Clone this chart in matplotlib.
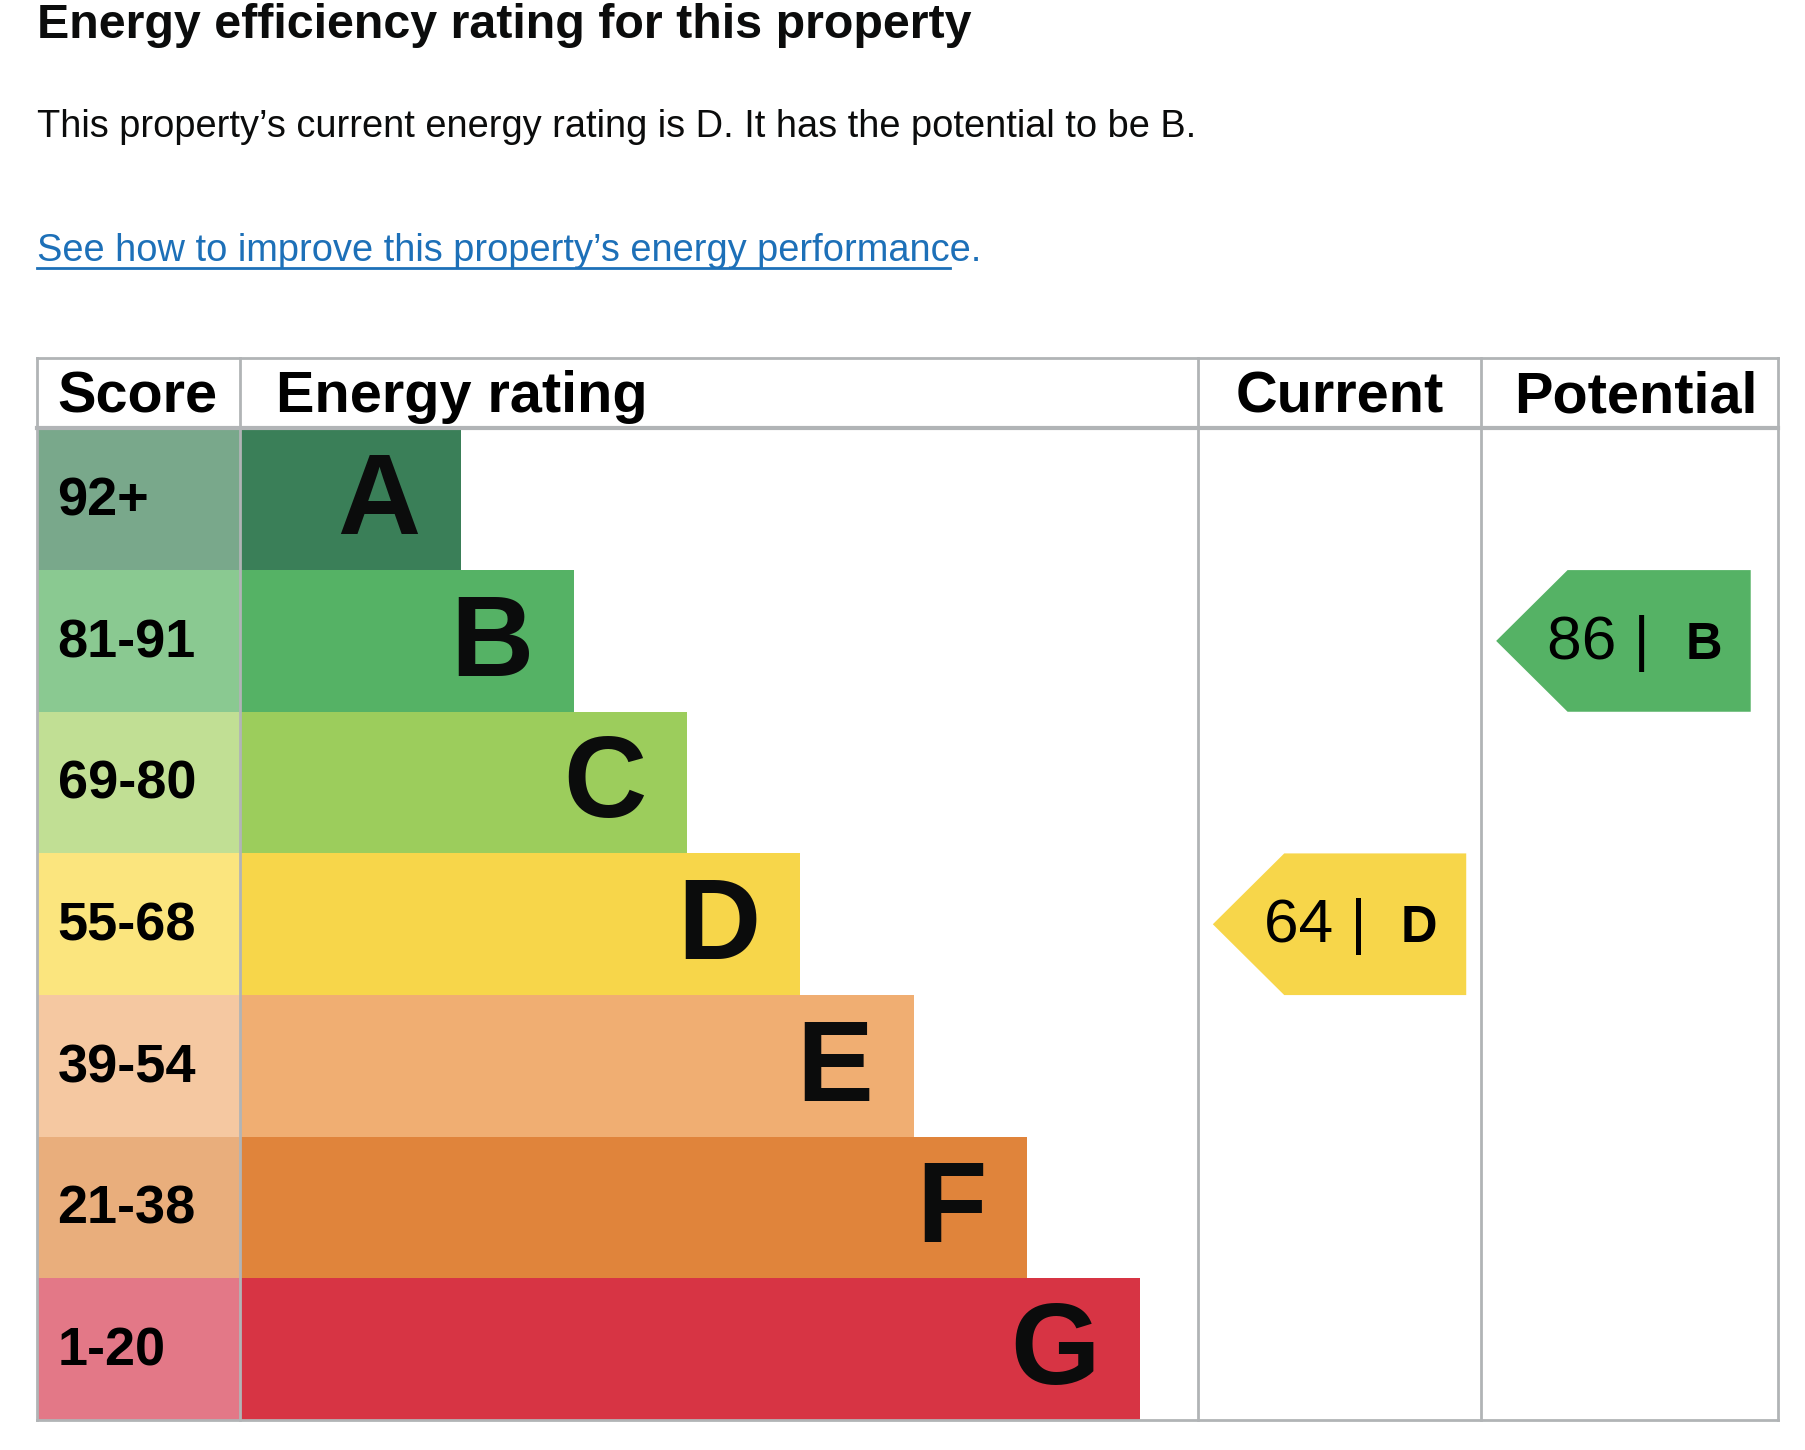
import matplotlib.pyplot as plt
from matplotlib.patches import Rectangle, Polygon

plt.rcParams['font.family'] = ['Liberation Sans', 'DejaVu Sans']

# data
bands = ["A", "B", "C", "D", "E", "F", "G"]
score_ranges = ["92+", "81-91", "69-80", "55-68", "39-54", "21-38", "1-20"]
bar_colors = ["#3a7f58", "#55b265", "#9ccd5c", "#f7d64a", "#f0ae72", "#e0843b", "#d73444"]
score_colors = ["#79a88b", "#8ac991", "#c1df94", "#fbe57e", "#f5c8a1", "#e9ae7c", "#e37887"]
current_score, current_band = 64, "D"
potential_score, potential_band = 86, "B"

W, H = 1568, 1259
s = 1806 / W
fig = plt.figure(figsize=(18.06, 14.5), dpi=100)
ax = fig.add_axes([0, 0, 1, 1])
ax.set_xlim(0, W)
ax.set_ylim(H, 0)
ax.axis('off')


def pt(px):
    return px * s * 0.72


# titles
ax.text(32, 22, "Energy efficiency rating for this property", fontsize=pt(42),
        fontweight='bold', va='center', color='#0b0c0c')
ax.text(32, 110, "This property\u2019s current energy rating is D. It has the potential to be B.",
        fontsize=pt(33), va='center', color='#0b0c0c')
ax.text(32, 218, "See how to improve this property\u2019s energy performance.",
        fontsize=pt(33), va='center', color='#1d70b8')
ax.plot([32, 825], [233, 233], color='#1d70b8', lw=2)

# table geometry
top, head_bot, row_h = 311, 372, 123
cols = [32, 208, 1040, 1286, 1544]
bottom = head_bot + row_h * len(bands)
bar_left, bar_step, bar_w0 = 208, 98.3, 192
grid = '#b1b4b6'

for x in cols:
    ax.plot([x, x], [top, bottom], color=grid, lw=2, zorder=3)
ax.plot([cols[0], cols[-1]], [top, top], color=grid, lw=2, zorder=3)
ax.plot([cols[0], cols[-1]], [head_bot, head_bot], color=grid, lw=3, zorder=3)
ax.plot([cols[0], cols[-1]], [bottom, bottom], color=grid, lw=2, zorder=3)

hs = pt(50)
ax.text(50, 345, "Score", fontsize=hs, fontweight='bold', va='center')
ax.text(240, 345, "Energy rating", fontsize=hs, fontweight='bold', va='center')
ax.text(1163, 345, "Current", fontsize=hs, fontweight='bold', va='center', ha='center')
ax.text(1420, 345, "Potential", fontsize=hs, fontweight='bold', va='center', ha='center')

for i, (b, r) in enumerate(zip(bands, score_ranges)):
    y0 = head_bot + i * row_h
    ax.add_patch(Rectangle((cols[0], y0), cols[1] - cols[0], row_h, color=score_colors[i], lw=0))
    right = bar_left + bar_w0 + i * bar_step
    ax.add_patch(Rectangle((bar_left, y0), right - bar_left, row_h, color=bar_colors[i], lw=0))
    ax.text(50, y0 + row_h / 2 + 2, r, fontsize=pt(47), fontweight='bold', va='center')
    ax.text(right - 35, y0 + row_h / 2 + 4, b, fontsize=pt(100), fontweight='bold',
            va='center', ha='right', color='#0b0c0c')


def arrow(x0, x1, score, band):
    i = bands.index(band)
    y0 = head_bot + i * row_h
    y1 = y0 + row_h
    tip = 37 + 25
    ax.add_patch(Polygon([(x0, (y0 + y1) / 2), (x0 + tip, y0), (x1, y0), (x1, y1), (x0 + tip, y1)],
                         closed=True, color=bar_colors[i], lw=0))
    ax.text(x0 + 44, (y0 + y1) / 2 + 2, f"{score} |", fontsize=pt(54), va='center')
    ax.text(x1 - 25, (y0 + y1) / 2 + 4, band, fontsize=pt(44), fontweight='bold',
            va='center', ha='right')


arrow(1053, 1273, current_score, current_band)
arrow(1299, 1520, potential_score, potential_band)

fig.savefig("out.png", dpi=100)
